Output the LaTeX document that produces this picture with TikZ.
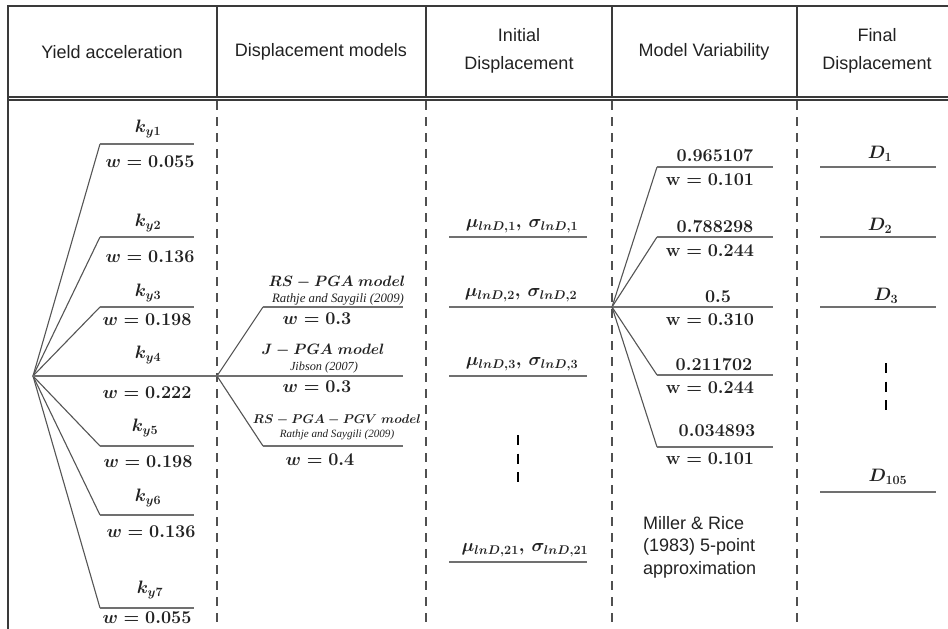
\RequirePackage{fix-cm}
\documentclass[tikz,border=0pt]{standalone}
\usepackage[no-math]{fontspec}
\newfontfamily\hdr{Liberation Sans}
\newfontfamily\srcfont{Liberation Serif}
\definecolor{txt}{HTML}{222222}
\definecolor{framec}{HTML}{3A3A3A}
\definecolor{sepc}{HTML}{505050}
\definecolor{fanc}{HTML}{555555}
\definecolor{hlc}{HTML}{707070}
\tikzset{
  frame/.style={draw=framec, line width=1.1pt},
  sepline/.style={draw=sepc, line width=1.2pt, dash pattern=on 9pt off 7pt},
  fanline/.style={draw=fanc, line width=1.1pt},
  hline/.style={draw=hlc, line width=1.6pt},
  vdash/.style={draw=black, line width=1.8pt, dash pattern=on 10pt off 8.5pt},
  lab/.style={inner sep=0pt, text=txt, font=\fontsize{18}{20}\selectfont\boldmath},
  labm/.style={inner sep=0pt, text=txt, font=\fontsize{15}{17}\selectfont\boldmath},
  labs/.style={inner sep=0pt, text=txt, font=\fontsize{12.7}{14}\selectfont\boldmath},
  src/.style={inner sep=0pt, text=txt, font=\srcfont\itshape\fontsize{12.8}{14}\selectfont},
  srcs/.style={inner sep=0pt, text=txt, font=\srcfont\itshape\fontsize{11.1}{12}\selectfont},
  head/.style={inner sep=0pt, text=txt, align=center, font=\hdr\fontsize{18}{28}\selectfont},
  note/.style={inner sep=0pt, text=txt, align=left, font=\hdr\fontsize{18}{22.5}\selectfont},
}
\begin{document}
\begin{tikzpicture}[x=1pt,y=-1pt]
\useasboundingbox[fill=white] (0,0) rectangle (948,629);
% ---------- frame and columns
\coordinate (tl) at (8,6); \coordinate (tr) at (948,6); \coordinate (bl) at (8,629);
\coordinate (h1l) at (8,97); \coordinate (h1r) at (948,97);
\coordinate (h2l) at (8,100); \coordinate (h2r) at (948,100);
\draw[frame] (tr) -- (tl) -- (bl);
\draw[frame] (h1l) -- (h1r);
\draw[frame] (h2l) -- (h2r);
\foreach \i/\x in {1/217,2/426,3/612,4/797}{
  \coordinate (st\i) at (\x,6); \coordinate (sm\i) at (\x,97);
  \coordinate (sd\i) at (\x,101); \coordinate (sb\i) at (\x,629);
  \draw[frame] (st\i) -- (sm\i);
  \draw[sepline] (sd\i) -- (sb\i);
}
% ---------- headers
\node[head] (hA) at (112,52) {Yield acceleration};
\node[head] (hB) at (321,52) {Displacement models};
\node[head] (hC) at (519,51) {Initial\\Displacement};
\node[head] (hD) at (704,52) {Model Variability};
\node[head] (hE) at (877,51) {Final\\Displacement};
% ---------- yield acceleration fan
\coordinate (o1) at (33,376);
\coordinate (o2) at (217,376);
\coordinate (o3) at (612,307);
\foreach \n/\y in {1/144,2/237,3/307,5/446,6/515,7/608}{
  \coordinate (k\n s) at (100,\y); \coordinate (k\n e) at (194,\y);
  \draw[fanline] (o1) -- (k\n s);
  \draw[hline] (k\n s) -- (k\n e);
}
\draw[hline] (o1) -- (o2);
\node[lab] (ky1) at (148,129) {$k_{y1}$};
\node[lab] (w1) at (150,162) {$w = 0.055$};
\node[lab] (ky2) at (148,223) {$k_{y2}$};
\node[lab] (w2) at (150,257) {$w = 0.136$};
\node[lab] (ky3) at (148,293) {$k_{y3}$};
\node[lab] (w3) at (147,320) {$w = 0.198$};
\node[lab] (ky4) at (148,355) {$k_{y4}$};
\node[lab] (w4) at (147,393) {$w = 0.222$};
\node[lab] (ky5) at (145,428) {$k_{y5}$};
\node[lab] (w5) at (148,462) {$w = 0.198$};
\node[lab] (ky6) at (148,498) {$k_{y6}$};
\node[lab] (w6) at (151,532) {$w = 0.136$};
\node[lab] (ky7) at (150,590) {$k_{y7}$};
\node[lab] (w7) at (147,618) {$w = 0.055$};
% ---------- displacement models fan
\coordinate (m1s) at (263,307); \coordinate (m1e) at (403,307);
\coordinate (m2e) at (403,376);
\coordinate (m3s) at (263,446); \coordinate (m3e) at (403,446);
\draw[fanline] (o2) -- (m1s); \draw[hline] (m1s) -- (m1e);
\draw[hline] (o2) -- (m2e);
\draw[fanline] (o2) -- (m3s); \draw[hline] (m3s) -- (m3e);
\node[labm] (m1t) at (337,282) {$RS - PGA\ model$};
\node[src] (m1r) at (338,299) {Rathje and Saygili (2009)};
\node[lab] (m1w) at (317,319) {$w = 0.3$};
\node[labm] (m2t) at (323,350) {$J - PGA\ model$};
\node[src, font=\srcfont\itshape\fontsize{12.3}{14}\selectfont] (m2r) at (324,368) {Jibson (2007)};
\node[lab] (m2w) at (317,387) {$w = 0.3$};
\node[labs] (m3t) at (337,420) {$RS - PGA - PGV\ model$};
\node[srcs] (m3r) at (337,435) {Rathje and Saygili (2009)};
\node[lab] (m3w) at (320,460) {$w = 0.4$};
% ---------- initial displacement
\coordinate (i1s) at (449,237); \coordinate (i1e) at (587,237);
\coordinate (i2s) at (449,307);
\coordinate (i3s) at (449,376); \coordinate (i3e) at (587,376);
\coordinate (i4s) at (449,562); \coordinate (i4e) at (587,562);
\draw[hline] (i1s) -- (i1e);
\draw[hline] (i2s) -- (o3);
\draw[hline] (i3s) -- (i3e);
\draw[hline] (i4s) -- (i4e);
\node[lab] (i1t) at (522,226) {$\mu_{lnD,1},\,\sigma_{lnD,1}$};
\node[lab] (i2t) at (521,295) {$\mu_{lnD,2},\,\sigma_{lnD,2}$};
\node[lab] (i3t) at (522,364) {$\mu_{lnD,3},\,\sigma_{lnD,3}$};
\node[lab] (i4t) at (525,550) {$\mu_{lnD,21},\,\sigma_{lnD,21}$};
\coordinate (id1) at (518,435); \coordinate (id2) at (518,482);
\draw[vdash] (id1) -- (id2);
% ---------- model variability fan
\coordinate (v1s) at (657,167); \coordinate (v1e) at (773,167);
\coordinate (v2s) at (657,237); \coordinate (v2e) at (773,237);
\coordinate (v3e) at (773,307);
\coordinate (v4s) at (657,375); \coordinate (v4e) at (773,375);
\coordinate (v5s) at (657,447); \coordinate (v5e) at (773,447);
\draw[fanline] (o3) -- (v1s); \draw[hline] (v1s) -- (v1e);
\draw[fanline] (o3) -- (v2s); \draw[hline] (v2s) -- (v2e);
\draw[hline] (o3) -- (v3e);
\draw[fanline] (o3) -- (v4s); \draw[hline] (v4s) -- (v4e);
\draw[fanline] (o3) -- (v5s); \draw[hline] (v5s) -- (v5e);
\node[lab] (v1t) at (715,156) {$0.965107$};
\node[lab] (v1w) at (710,180) {$\mathrm{w} = 0.101$};
\node[lab] (v2t) at (715,227) {$0.788298$};
\node[lab] (v2w) at (710,251) {$\mathrm{w} = 0.244$};
\node[lab] (v3t) at (718,297) {$0.5$};
\node[lab] (v3w) at (710,320) {$\mathrm{w} = 0.310$};
\node[lab] (v4t) at (714,365) {$0.211702$};
\node[lab] (v4w) at (710,388) {$\mathrm{w} = 0.244$};
\node[lab] (v5t) at (717,431) {$0.034893$};
\node[lab] (v5w) at (710,459) {$\mathrm{w} = 0.101$};
\node[note, anchor=west] (mr) at (643,547) {Miller \& Rice\\(1983) 5-point\\approximation};
% ---------- final displacement
\foreach \n/\y in {1/167,2/237,3/307,4/492}{
  \coordinate (d\n s) at (820,\y); \coordinate (d\n e) at (936,\y);
  \draw[hline] (d\n s) -- (d\n e);
}
\node[lab] (D1) at (880,154) {$D_1$};
\node[lab] (D2) at (880,226) {$D_2$};
\node[lab] (D3) at (886,296) {$D_3$};
\node[lab] (D4) at (888,477) {$D_{105}$};
\coordinate (dd1) at (886,363); \coordinate (dd2) at (886,410);
\draw[vdash] (dd1) -- (dd2);
\end{tikzpicture}
\end{document}
